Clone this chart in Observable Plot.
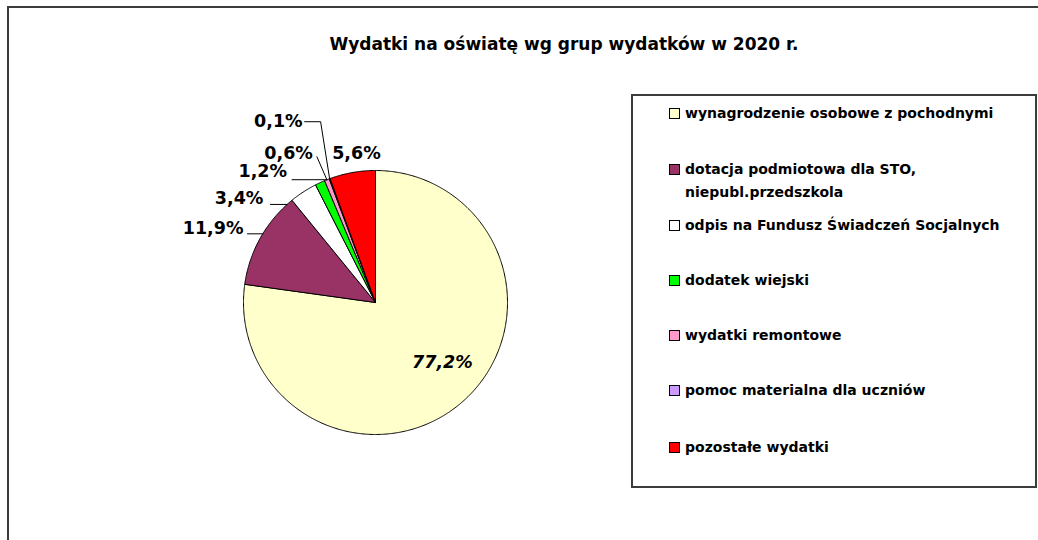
<!DOCTYPE html>
<html>
<head>
<meta charset="utf-8">
<script src="https://cdn.jsdelivr.net/npm/d3@7"></script>
<script src="https://cdn.jsdelivr.net/npm/@observablehq/plot@0.6"></script>
<style>
  html, body { margin: 0; padding: 0; background: #fff; }
  #wrap { position: relative; width: 1038px; height: 540px; overflow: hidden; font-family: "DejaVu Sans", sans-serif; }
  #chart { position: absolute; left: 0; top: 0; }
  #frame { position: absolute; left: 7px; top: 6px; width: 1200px; height: 700px; border-left: 2px solid #3c3c3c; border-top: 2px solid #3c3c3c; pointer-events: none; }
  #title { position: absolute; left: 264px; width: 600px; top: 34px; text-align: center; font-weight: bold; font-size: 17px; color: #000; white-space: nowrap; }
  #legend { position: absolute; left: 631px; top: 94px; width: 406px; height: 394px; box-sizing: border-box; border: 2px solid #3c3c3c; background: #fff; }
  .item { position: absolute; left: 36px; width: 340px; font-weight: bold; font-size: 14px; line-height: 23px; color: #000; }
  .sw { position: absolute; left: 0; top: 6px; width: 9px; height: 9px; border: 1px solid #000; }
  .txt { margin-left: 16px; display: block; }
</style>
</head>
<body>
<div id="wrap">
  <div id="chart"></div>
  <div id="frame"></div>
  <div id="title"></div>
  <div id="legend"></div>
</div>
<script>
// ---- data ----
const chartTitle = "Wydatki na oświatę wg grup wydatków w 2020 r.";
const categories = [
  "wynagrodzenie osobowe z pochodnymi",
  "dotacja podmiotowa dla STO, niepubl.przedszkola",
  "odpis na Fundusz Świadczeń Socjalnych",
  "dodatek wiejski",
  "wydatki remontowe",
  "pomoc materialna dla uczniów",
  "pozostałe wydatki"
];
const shares = [77.2, 11.9, 3.4, 1.2, 0.6, 0.1, 5.6];
const shareLabels = ["77,2%", "11,9%", "3,4%", "1,2%", "0,6%", "0,1%", "5,6%"];
const sliceColors = ["#FFFFCC", "#993366", "#FFFFFF", "#00FF00", "#FF99CC", "#CC99FF", "#FF0000"];

// ---- layout ----
const W = 1038, H = 540;
const R = 132, CX = 375, CY = 302;
// label placement relative to the slice's arc mid-point, in pixels
const labelLayout = [
  {inside: 0.68, dx: 8, dy: -8},
  {dx: -17, dy: -9, lead: "h", gap: 4, ly: 5},
  {dx: -40, dy: 6.5, lead: "h", gap: 7, ly: 6},
  {dx: -33, dy: -11, lead: "h", gap: 5, ly: 8},
  {dx: -14, dy: -26, lead: "p", gap: 4, ly: 3},
  {dx: -27, dy: -57, lead: "k", gap: 2, ly: 0, knee: -9},
  {dx: 4, dy: -19, anchor: "middle"}
];
const legendCenters = [[113], [169, 192], [225], [280], [335], [390], [447]];

// ---- pie geometry (data units, radius 1) ----
const arcs = d3.pie().sort(null).value(d => d)(shares);
const poly = [];
arcs.forEach((a, i) => {
  const span = a.endAngle - a.startAngle;
  const n = Math.max(2, Math.ceil(span / (Math.PI / 360)));
  poly.push({cat: categories[i], x: 0, y: 0});
  for (let j = 0; j <= n; j++) {
    const t = a.startAngle + span * j / n;
    poly.push({cat: categories[i], x: Math.sin(t), y: Math.cos(t)});
  }
  poly.push({cat: categories[i], x: 0, y: 0});
});

const texts = [];
const leaders = [];
arcs.forEach((a, i) => {
  const L = labelLayout[i];
  const mid = (a.startAngle + a.endAngle) / 2;
  const rr = L.inside || 1;
  const px = Math.sin(mid), py = Math.cos(mid);
  const tx = px * rr + L.dx / R, ty = py * rr - L.dy / R;
  texts.push({label: shareLabels[i], x: tx, y: ty, anchor: L.inside ? "middle" : (L.anchor || "end"), italic: !!L.inside});
  if (L.lead) {
    const sx = tx + L.gap / R, sy = ty - L.ly / R;
    const pts = [{x: sx, y: sy}];
    if (L.lead === "h") pts.push({x: -Math.sqrt(1 - sy * sy), y: sy});
    else if (L.lead === "k") { pts.push({x: px + L.knee / R, y: sy}); pts.push({x: px, y: py}); }
    else pts.push({x: px, y: py});
    pts.forEach(p => leaders.push({id: i, ...p}));
  }
});

const plot = Plot.plot({
  width: W, height: H,
  margin: 0,
  x: {domain: [-1, 1], range: [CX - R, CX + R], axis: null},
  y: {domain: [-1, 1], range: [CY + R, CY - R], axis: null},
  color: {domain: categories, range: sliceColors},
  style: {background: "#fff", overflow: "visible"},
  marks: [
    Plot.line(poly, {x: "x", y: "y", z: "cat", fill: "cat", stroke: "#000", strokeWidth: 1, strokeLinejoin: "miter", curve: "linear"}),
    Plot.line(leaders, {x: "x", y: "y", z: "id", stroke: "#000", strokeWidth: 1, curve: "linear"}),
    Plot.text(texts.filter(d => d.anchor === "end"), {x: "x", y: "y", text: "label", textAnchor: "end", fontSize: 17.5, fontWeight: "bold", fontFamily: "DejaVu Sans", fill: "#000"}),
    Plot.text(texts.filter(d => d.anchor === "middle" && !d.italic), {x: "x", y: "y", text: "label", textAnchor: "middle", fontSize: 17.5, fontWeight: "bold", fontFamily: "DejaVu Sans", fill: "#000"}),
    Plot.text(texts.filter(d => d.italic), {x: "x", y: "y", text: "label", textAnchor: "middle", fontSize: 17.5, fontWeight: "bold", fontStyle: "italic", fontFamily: "DejaVu Sans", fill: "#000"})
  ]
});
document.getElementById("chart").appendChild(plot);

document.getElementById("title").textContent = chartTitle;

const legend = document.getElementById("legend");
categories.forEach((c, i) => {
  const item = document.createElement("div");
  item.className = "item";
  item.style.top = (legendCenters[i][0] - 11.5 - 96) + "px";
  const sw = document.createElement("span");
  sw.className = "sw";
  sw.style.background = sliceColors[i];
  const t = document.createElement("span");
  t.className = "txt";
  t.textContent = c;
  item.appendChild(sw);
  item.appendChild(t);
  legend.appendChild(item);
});
</script>
</body>
</html>
